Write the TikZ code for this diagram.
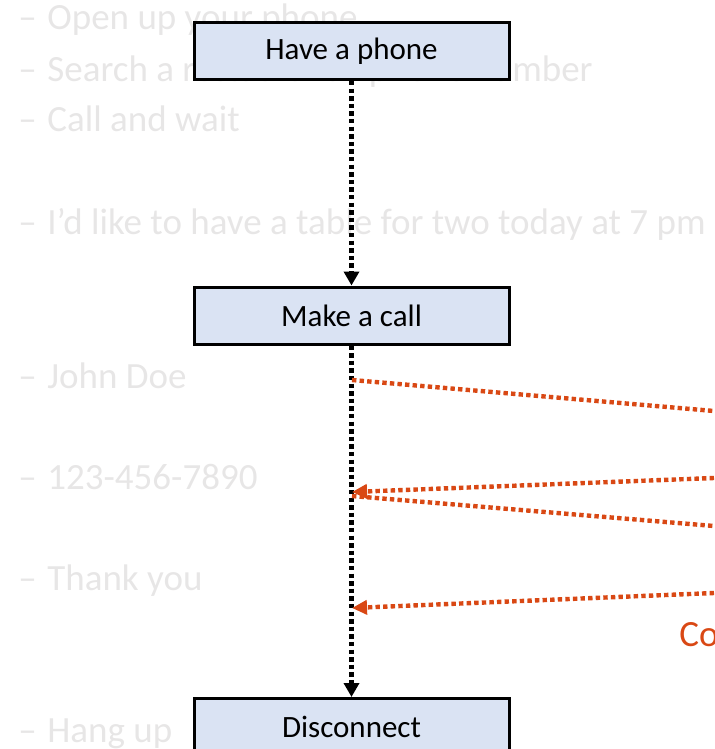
\documentclass[tikz,border=0pt]{standalone}
\usepackage{fontspec}
\setmainfont{Carlito}
\usetikzlibrary{arrows.meta}
\definecolor{boxblue}{RGB}{218,227,243}
\definecolor{notegray}{RGB}{231,230,230}
\definecolor{msgorange}{RGB}{217,72,20}
\newcommand{\dashmark}{\makebox[14.5pt][l]{–}}

\begin{document}
\begin{tikzpicture}[x=0.5pt, y=-0.5pt,
            stepbox/.style={draw=black, line width=1.5pt, fill=boxblue, minimum width=157.5pt, minimum height=28.5pt, inner sep=0pt, font=\fontsize{15.5}{18}\selectfont},
            note/.style={anchor=base west, inner sep=0pt, text=notegray, font=\fontsize{18.5}{22}\selectfont},
            lifeline/.style={draw=black, line width=2.2pt, dash pattern=on 2.2pt off 1.6pt, -{Triangle[length=7pt, width=7.5pt]}},
            message/.style={draw=msgorange, line width=2.2pt, dash pattern=on 2.2pt off 1.6pt},
            reply/.style={message, -{Triangle[length=7.5pt, width=7pt]}}
        ]
            \clip (0,0) rectangle (714,749);

            % background notes
            \node[note] (n1) at (18,30) {\dashmark Open up your phone};
            \node[note] (n2) at (18,82) {\dashmark Search a restaurant’s phone number};
            \node[note] (n3) at (18,132) {\dashmark Call and wait};
            \node[note] (n4) at (18,234) {\dashmark I’d like to have a table for two today at 7 pm};
            \node[note] (n5) at (18,388) {\dashmark John Doe};
            \node[note] (n6) at (18,489) {\dashmark 123-456-7890};
            \node[note] (n7) at (18,590) {\dashmark Thank you};
            \node[note] (n8) at (18,742) {\dashmark Hang up};

            % steps
            \node[stepbox] (phone) at (351.5,51) {Have a phone};
            \node[stepbox] (call) at (351.5,315.5) {Make a call};
            \node[stepbox] (disc) at (351.5,727) {Disconnect};

            % lifeline
            \draw[lifeline] (phone.south) -- (call.north);
            \draw[lifeline] (call.south) -- (disc.north);

            % messages
            \coordinate (out1a) at (352,380);
            \coordinate (out1b) at (714,411);
            \coordinate (in1a) at (714,478);
            \coordinate (in1b) at (352,492);
            \coordinate (out2a) at (352,496);
            \coordinate (out2b) at (714,526);
            \coordinate (in2a) at (714,593);
            \coordinate (in2b) at (352,608);
            \draw[message] (out1a) -- (out1b);
            \draw[reply] (in1a) -- (in1b);
            \draw[message] (out2a) -- (out2b);
            \draw[reply] (in2a) -- (in2b);

            \node[note, text=msgorange] (co) at (679,646) {Co};
        \end{tikzpicture}
\end{document}
